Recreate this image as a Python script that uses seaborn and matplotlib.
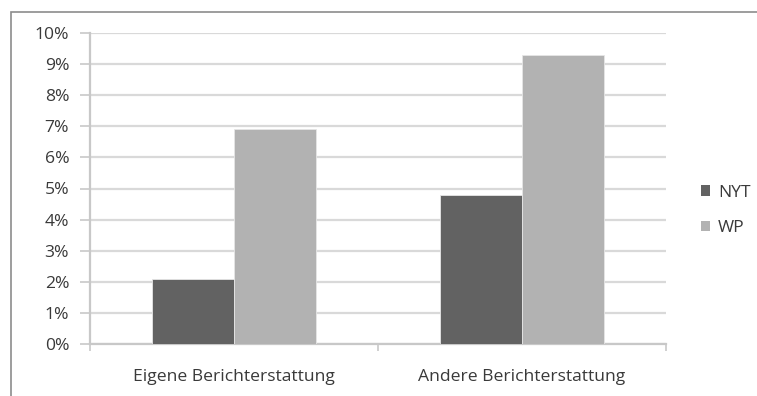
import matplotlib
matplotlib.use("Agg")
import matplotlib.pyplot as plt
import matplotlib.patches as mpatches
from matplotlib.ticker import FuncFormatter, FixedLocator
import seaborn as sns
import pandas as pd

categories = ["Eigene Berichterstattung", "Andere Berichterstattung"]
series = ["NYT", "WP"]
nyt_values = [2.1, 4.8]
wp_values = [6.9, 9.3]
y_ticks = [0, 1, 2, 3, 4, 5, 6, 7, 8, 9, 10]

df = pd.DataFrame({
    "Kategorie": categories * 2,
    "Zeitung": [series[0]] * 2 + [series[1]] * 2,
    "Anteil": nyt_values + wp_values,
})

sns.set_theme(style="white")
plt.rcParams["font.family"] = ["Open Sans", "DejaVu Sans"]
text_color = "#3a3a3a"
grid_color = "#d9d9d9"
font_size = 12.6

fig = plt.figure(figsize=(7.57, 3.96), dpi=100)
ax = fig.add_axes([90 / 757, 1 - 344 / 396, 576 / 757, 311 / 396])

sns.barplot(data=df, x="Kategorie", y="Anteil", hue="Zeitung",
            order=categories, hue_order=series,
            palette=["#626262", "#b2b2b2"], width=0.57,
            edgecolor="#e6e6e6", linewidth=0.6, ax=ax, legend=False,
            zorder=3)

ax.set_xlim(-0.5, 1.5)
ax.set_ylim(0, 10)
ax.set_xlabel("")
ax.set_ylabel("")

ax.yaxis.set_major_locator(FixedLocator(y_ticks))
ax.yaxis.set_major_formatter(FuncFormatter(lambda v, p: f"{v:.0f}%"))
ax.yaxis.grid(True, color=grid_color, linewidth=1.6, zorder=0)
ax.set_axisbelow(True)

ax.xaxis.set_minor_locator(FixedLocator([-0.5, 0.5, 1.5]))
ax.tick_params(axis="x", which="major", length=0, pad=18,
               labelsize=font_size, labelcolor=text_color)
ax.tick_params(axis="x", which="minor", length=5, width=1.2,
               color="#c8c8c8", direction="out", bottom=True)
ax.tick_params(axis="y", which="major", length=7, width=1.2,
               color="#c8c8c8", direction="out", left=True, pad=8,
               labelsize=font_size, labelcolor=text_color)

for side in ["top", "right"]:
    ax.spines[side].set_visible(False)
for side in ["left", "bottom"]:
    ax.spines[side].set_color("#c8c8c8")
    ax.spines[side].set_linewidth(1.6)

# outer chart frame, open towards right and bottom
frame = mpatches.Rectangle((11 / 757, -0.1), 1.2, 1 - 12 / 396 + 0.1,
                           transform=fig.transFigure, fill=False,
                           edgecolor="#8c8c8c", linewidth=1.2, zorder=0)
fig.patches.append(frame)

handles = [mpatches.Patch(facecolor=c, edgecolor="none")
           for c in ["#626262", "#b2b2b2"]]
fig.legend(handles, series, loc="upper left",
           bbox_to_anchor=(685 / 757, 1 - 169 / 396), frameon=False,
           handlelength=0.55, handleheight=0.55, handletextpad=0.45,
           labelspacing=1.1, fontsize=font_size, labelcolor=text_color)

fig.savefig("out.png", dpi=100)
